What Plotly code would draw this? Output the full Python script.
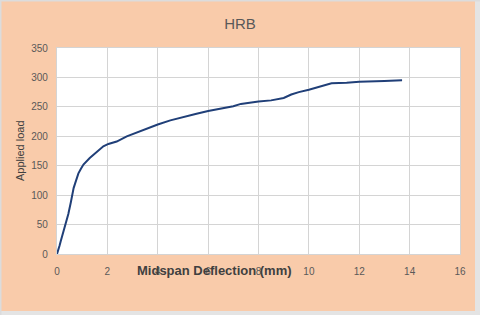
import plotly.graph_objects as go

deflection = [0, 0.05, 0.1, 0.15, 0.22, 0.32, 0.45, 0.55, 0.6, 0.62, 0.66, 0.72, 0.78, 0.85, 0.95,
              1.05, 1.3, 1.58, 1.84, 2.04, 2.37, 2.77, 3.2, 3.6, 4.0, 4.5, 5.0, 5.5, 6.0, 6.5,
              7.0, 7.3, 7.6, 8.0, 8.5, 9.0, 9.3, 9.6, 10.0, 10.5, 10.9, 11.5, 12.0, 13.0, 13.7]
load = [0, 6, 14, 22, 32, 48, 68, 88, 100, 108, 112, 120, 129, 137, 145,
        152, 163, 174, 183, 187, 191, 200, 207, 214, 220, 227, 233, 238, 243, 247,
        251, 255, 257, 259, 261, 265, 271, 275, 279, 285, 290, 291, 292.5, 294, 295]

W, H = 480, 315
L, R, T, B = 57, 20, 48, 61
PW, PH = W - L - R, H - T - B

def px(x):
    return (x - L) / PW

def py(y):
    return (H - B - y) / PH

fig = go.Figure()
fig.add_trace(go.Scatter(x=deflection, y=load, mode="lines",
                         line=dict(color="#203f78", width=2), showlegend=False))

grid = "#d4d4d4"
tickfont = dict(family="Liberation Sans, Arial, sans-serif", size=10, color="#595959")
fig.update_layout(
    width=W, height=H,
    margin=dict(l=L, r=R, t=T, b=B),
    paper_bgcolor="#f9cbaa",
    plot_bgcolor="white",
    title=dict(text="HRB", x=0.5, xanchor="center", y=1 - 24 / H, yanchor="middle",
               font=dict(family="Liberation Sans, Arial, sans-serif", size=15, color="#595959")),
    xaxis=dict(range=[0, 16], dtick=2, tick0=0, showgrid=True, gridcolor=grid, gridwidth=1.3,
               zeroline=False, showline=True, linecolor=grid, linewidth=1.3, mirror=True,
               tickfont=tickfont, ticks="", ticklabelstandoff=8, fixedrange=True),
    yaxis=dict(range=[0, 350], dtick=50, tick0=0, showgrid=True, gridcolor=grid, gridwidth=1.3,
               zeroline=False, showline=True, linecolor=grid, linewidth=1.3, mirror=True,
               tickfont=tickfont, ticks="", ticklabelstandoff=6, fixedrange=True),
    annotations=[
        dict(text="<b>Midspan Deflection (mm)</b>", x=px(214), y=py(270), xref="paper", yref="paper",
             showarrow=False, xanchor="center", yanchor="middle",
             font=dict(family="Liberation Sans Narrow, Liberation Sans, Arial, sans-serif", size=13, color="#404040")),
        dict(text="Applied load", x=px(20), y=py(151), xref="paper", yref="paper",
             showarrow=False, xanchor="center", yanchor="middle", textangle=-90,
             font=dict(family="Liberation Sans, Arial, sans-serif", size=11, color="#404040")),
    ],
    shapes=[
        dict(type="rect", xref="paper", yref="paper", x0=px(475), x1=px(480), y0=py(0), y1=py(315),
             fillcolor="#e4e4e4", line=dict(width=0), layer="above"),
        dict(type="rect", xref="paper", yref="paper", x0=px(0), x1=px(480), y0=py(311), y1=py(315),
             fillcolor="#e4e4e4", line=dict(width=0), layer="above"),
        dict(type="rect", xref="paper", yref="paper", x0=px(0), x1=px(1.5), y0=py(0), y1=py(315),
             fillcolor="#dcdcdc", line=dict(width=0), layer="above"),
        dict(type="rect", xref="paper", yref="paper", x0=px(0), x1=px(480), y0=py(0), y1=py(1.5),
             fillcolor="#dcdcdc", line=dict(width=0), layer="above"),
    ],
)

fig.write_html("out.html", config={"displayModeBar": False},
               post_script="document.body.style.margin='0';")
